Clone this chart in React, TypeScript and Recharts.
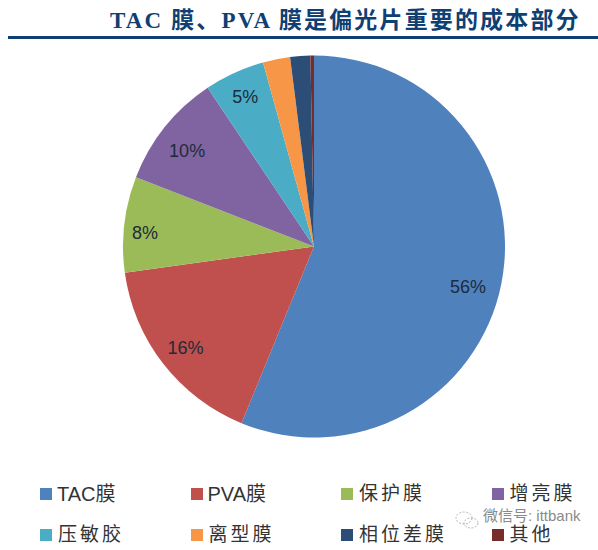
import { Legend, Pie, PieChart, Cell } from "recharts";

const names = ["TAC膜", "PVA膜", "保护膜", "增亮膜", "压敏胶", "离型膜", "相位差膜", "其他"];
const shares = [56.2, 16.6, 8.1, 9.7, 5.1, 2.3, 1.7, 0.3];
const sliceLabels = ["56%", "16%", "8%", "10%", "5%", "", "", ""];
const colors = ["#4F81BD", "#C0504D", "#9BBB59", "#8064A2", "#4BACC6", "#F79646", "#2C4D75", "#772C2A"];

const title = "TAC 膜、PVA 膜是偏光片重要的成本部分";
const watermark = "微信号: ittbank";

const chartData = names.map((name, i) => ({ name, value: shares[i] }));

const RADIAN = Math.PI / 180;

// small nudges from the radial spot, the labels in the picture are not quite centred
const labelNudge = [[-3, 10], [-2, 3], [-10, 5], [-2, 5], [-2, -4]];

function renderLabel(props: any) {
  const { cx, cy, midAngle, index } = props;
  const text = sliceLabels[index];
  if (!text) return null;
  const r = 160;
  const x = cx + r * Math.cos(-midAngle * RADIAN) + labelNudge[index][0];
  const y = cy + r * Math.sin(-midAngle * RADIAN) + labelNudge[index][1];
  return (
    <text x={x} y={y} textAnchor="middle" dominantBaseline="central" fontSize={18} fill="#1d2b3a" fontFamily="Liberation Sans, sans-serif">
      {text}
    </text>
  );
}

function renderLegend() {
  return (
    <div style={{ display: "grid", gridTemplateColumns: "150.5px 150.5px 150.5px 107px", rowGap: 19 }}>
      {names.map((name, i) => (
        <div key={name} style={{ display: "flex", alignItems: "center", height: 22 }}>
          <span style={{ width: 12, height: 12, background: colors[i], marginRight: 5, flexShrink: 0 }} />
          <span
            style={{
              fontSize: i < 2 ? 20 : 19,
              lineHeight: "18px",
              color: "#333",
              whiteSpace: "nowrap",
              letterSpacing: i < 2 ? 0 : 3,
              paddingLeft: i < 2 ? 0 : 1,
              fontFamily: "Liberation Sans, Noto Sans CJK SC, sans-serif",
            }}
          >
            {name}
          </span>
        </div>
      ))}
    </div>
  );
}

export default function App() {
  return (
    <div style={{ position: "absolute", left: 0, top: 0, width: 598, height: 550, overflow: "hidden", background: "#fff" }}>
      <div
        style={{
          position: "absolute",
          left: 110,
          top: 7,
          fontSize: 23,
          lineHeight: "28px",
          fontWeight: 700,
          letterSpacing: 2.15,
          color: "#0f3f73",
          whiteSpace: "nowrap",
          fontFamily: "Liberation Serif, Noto Sans CJK SC, serif",
        }}
      >
        {title}
      </div>
      <div style={{ position: "absolute", left: 8, top: 36, width: 590, height: 2.5, background: "#0f3f73" }} />
      <PieChart width={598} height={550} margin={{ top: 0, right: 0, bottom: 0, left: 0 }}>
        <Pie
          data={chartData}
          dataKey="value"
          nameKey="name"
          cx={314}
          cy={246.5}
          outerRadius={191}
          startAngle={90}
          endAngle={-270}
          stroke="none"
          label={renderLabel}
          labelLine={false}
          isAnimationActive={false}
        >
          {chartData.map((d, i) => (
            <Cell key={d.name} fill={colors[i]} />
          ))}
        </Pie>
        <Legend
          content={renderLegend}
          layout="horizontal"
          align="center"
          verticalAlign="middle"
          wrapperStyle={{ left: 40, top: 483, width: 558 }}
        />
      </PieChart>
      <svg style={{ position: "absolute", left: 454, top: 510 }} width={26} height={20} fill="none" stroke="#b5b5b5" strokeWidth={1} strokeDasharray="2 1.5">
        <ellipse cx={10} cy={8} rx={8} ry={6} />
        <ellipse cx={17} cy={13} rx={7} ry={5} />
      </svg>
      <div
        style={{
          position: "absolute",
          left: 483,
          top: 509,
          fontSize: 15,
          lineHeight: "14px",
          color: "#8a8a8a",
          whiteSpace: "nowrap",
          fontFamily: "Liberation Sans, Noto Sans CJK SC, sans-serif",
        }}
      >
        {watermark}
      </div>
    </div>
  );
}
